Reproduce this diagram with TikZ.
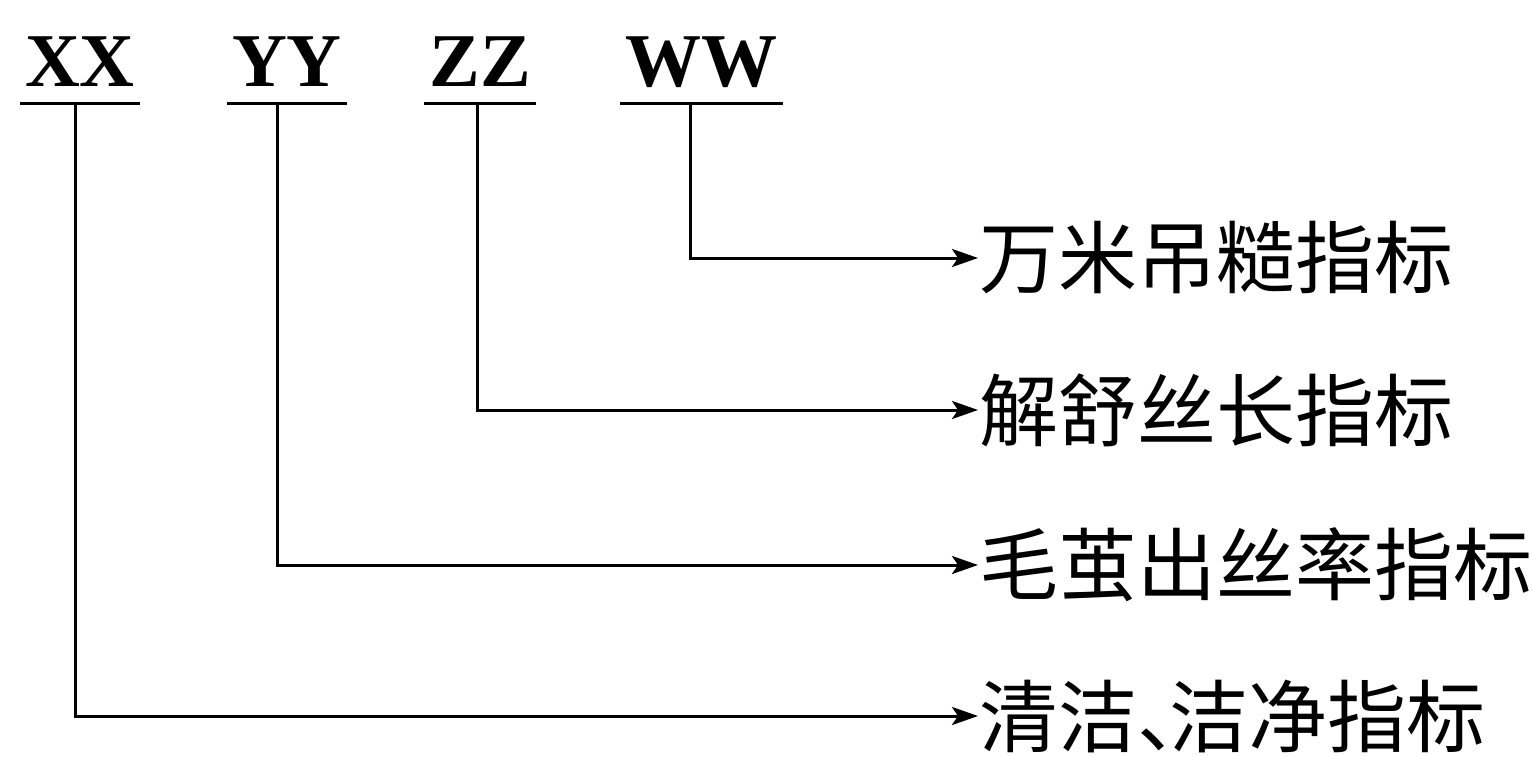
\documentclass[tikz,border=0pt]{standalone}
\usepackage{fontspec}
\setmainfont{Liberation Serif}
\newfontfamily\cjk{Noto Sans CJK SC}
\usepackage{tikz}
\usetikzlibrary{arrows.meta}

\tikzset{
  code/.style={anchor=south,inner xsep=2pt,inner ysep=0pt,text depth=7.5pt,
    font=\fontsize{38}{38}\selectfont\bfseries},
  item/.style={anchor=west,inner sep=0pt,font=\cjk\fontsize{39.5}{39.5}\selectfont},
}

\begin{document}
\begin{tikzpicture}[line cap=butt,line join=miter,>={Stealth[length=13pt,width=9pt,inset=3pt]},x=0.5pt,y=-0.5pt,line width=1.5pt]
\useasboundingbox (0,0) rectangle (1532,756);
\node[code] (xx) at (80,103) {XX};
\node[code] (yy) at (287,103) {YY};
\node[code] (zz) at (480,103) {ZZ};
\node[code] (ww) at (701,103) {WW};
\draw (xx.south west) -- (xx.south east);
\draw (yy.south west) -- (yy.south east);
\draw (zz.south west) -- (zz.south east);
\draw (ww.south west) -- (ww.south east);
\node[item] (dww) at (978,258) {万米吊糙指标};
\node[item] (dzz) at (978,410) {解舒丝长指标};
\node[item] (dyy) at (978,565) {毛茧出丝率指标};
\node[item] (dxx) at (978,716) {清洁、\kern-.6em洁净指标};
\draw[->] ([xshift=-5.5pt]ww.south) |- (dww.west);
\draw[->] ([xshift=-1.5pt]zz.south) |- (dzz.west);
\draw[->] ([xshift=-5pt]yy.south) |- (dyy.west);
\draw[->] ([xshift=-2.5pt]xx.south) |- (dxx.west);
\end{tikzpicture}
\end{document}
